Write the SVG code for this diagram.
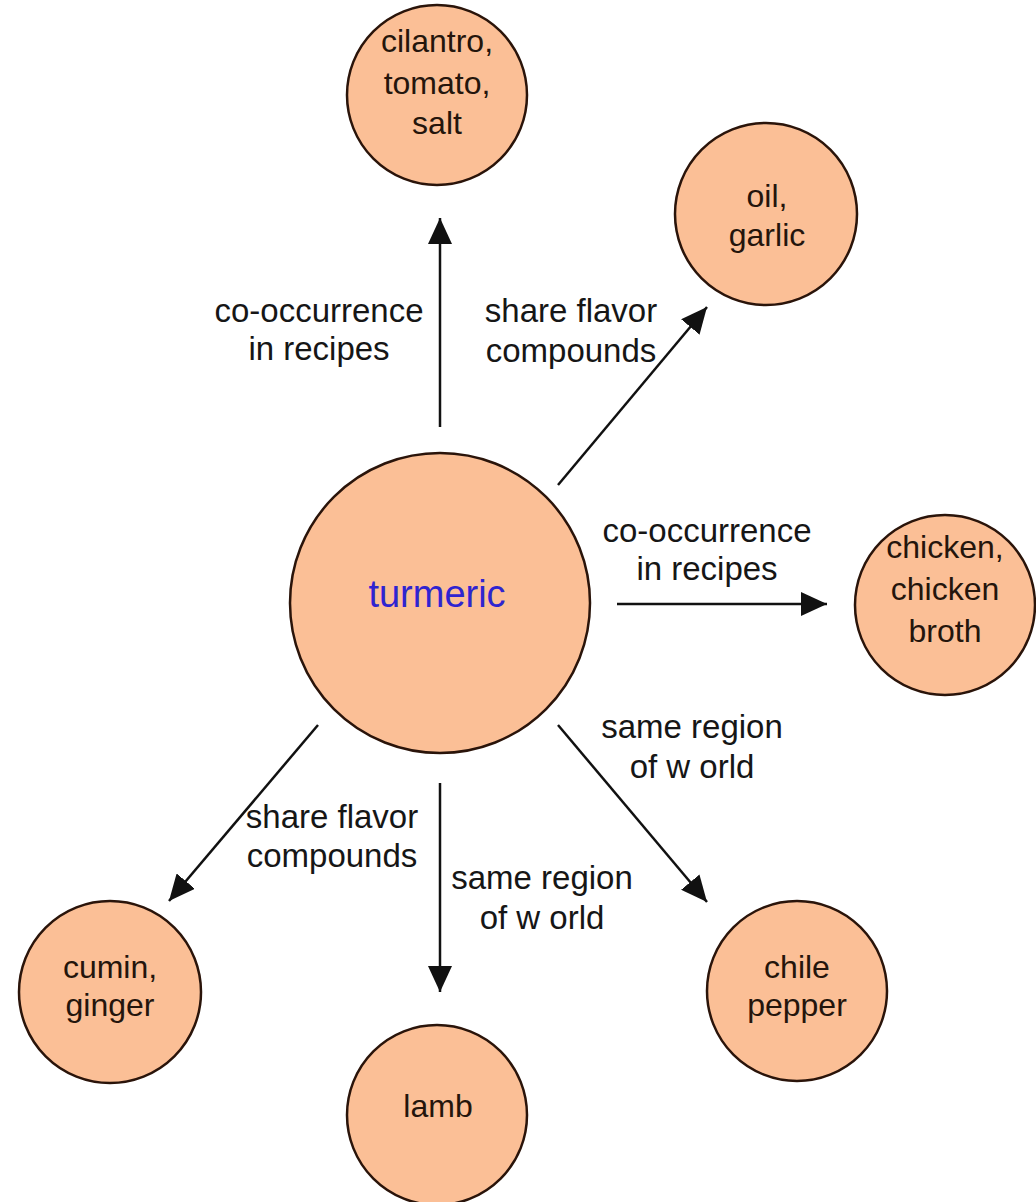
<svg xmlns="http://www.w3.org/2000/svg" width="1036" height="1202" viewBox="0 0 1036 1202">
  <defs>
    <style>
      .node circle { fill: #fbbf96; stroke: #2a140a; stroke-width: 2.5; }
      .node text { font-family: "Liberation Sans", Arial, sans-serif; font-size: 32px; fill: #24150c; text-anchor: middle; }
      .hub text { font-size: 38px; fill: #2f24d0; }
      .edges line { stroke: #111; stroke-width: 2.5; fill: none; }
      .labels text { font-family: "Liberation Sans", Arial, sans-serif; font-size: 33px; fill: #161616; text-anchor: middle; }
    </style>
    <marker id="head" viewBox="0 0 26 24" refX="26" refY="12" markerWidth="26" markerHeight="24" markerUnits="userSpaceOnUse" orient="auto">
      <path d="M0,0 L26,12 L0,24 Z" fill="#111"/>
    </marker>
  </defs>
  <rect width="1036" height="1202" fill="#ffffff"/>

  <!-- connectors from the turmeric hub -->
  <g id="connectors" class="edges">
    <line x1="440" y1="427" x2="440" y2="218" marker-end="url(#head)"/>
    <line x1="558" y1="485" x2="707" y2="307" marker-end="url(#head)"/>
    <line x1="617" y1="604" x2="827" y2="604" marker-end="url(#head)"/>
    <line x1="558" y1="725" x2="707" y2="902" marker-end="url(#head)"/>
    <line x1="440" y1="783" x2="440" y2="992" marker-end="url(#head)"/>
    <line x1="318" y1="725" x2="169" y2="901" marker-end="url(#head)"/>
  </g>

  <!-- connector labels -->
  <g id="edge-labels" class="labels">
    <text x="319" y="322">co-occurrence</text>
    <text x="319" y="360">in recipes</text>
    <text x="571" y="322">share flavor</text>
    <text x="571" y="362">compounds</text>
    <text x="707" y="542">co-occurrence</text>
    <text x="707" y="580">in recipes</text>
    <text x="692" y="738">same region</text>
    <text x="692" y="778">of w orld</text>
    <text x="542" y="889">same region</text>
    <text x="542" y="929">of w orld</text>
    <text x="332" y="828">share flavor</text>
    <text x="332" y="867">compounds</text>
  </g>

  <g id="turmeric" class="node hub">
    <circle cx="440" cy="603" r="150"/>
    <text x="437" y="607">turmeric</text>
  </g>

  <g id="cilantro-tomato-salt" class="node">
    <circle cx="437" cy="95" r="90"/>
    <text x="437" y="52">cilantro,</text>
    <text x="437" y="94">tomato,</text>
    <text x="437" y="134">salt</text>
  </g>

  <g id="oil-garlic" class="node">
    <circle cx="766" cy="214" r="91"/>
    <text x="767" y="207">oil,</text>
    <text x="767" y="246">garlic</text>
  </g>

  <g id="chicken" class="node">
    <circle cx="945" cy="605" r="90"/>
    <text x="945" y="558">chicken,</text>
    <text x="945" y="600">chicken</text>
    <text x="945" y="642">broth</text>
  </g>

  <g id="chile-pepper" class="node">
    <circle cx="797" cy="991" r="90"/>
    <text x="797" y="978">chile</text>
    <text x="797" y="1016">pepper</text>
  </g>

  <g id="lamb" class="node">
    <circle cx="437" cy="1115" r="90"/>
    <text x="438" y="1117">lamb</text>
  </g>

  <g id="cumin-ginger" class="node">
    <circle cx="110" cy="992" r="91"/>
    <text x="110" y="978">cumin,</text>
    <text x="110" y="1016">ginger</text>
  </g>
</svg>
